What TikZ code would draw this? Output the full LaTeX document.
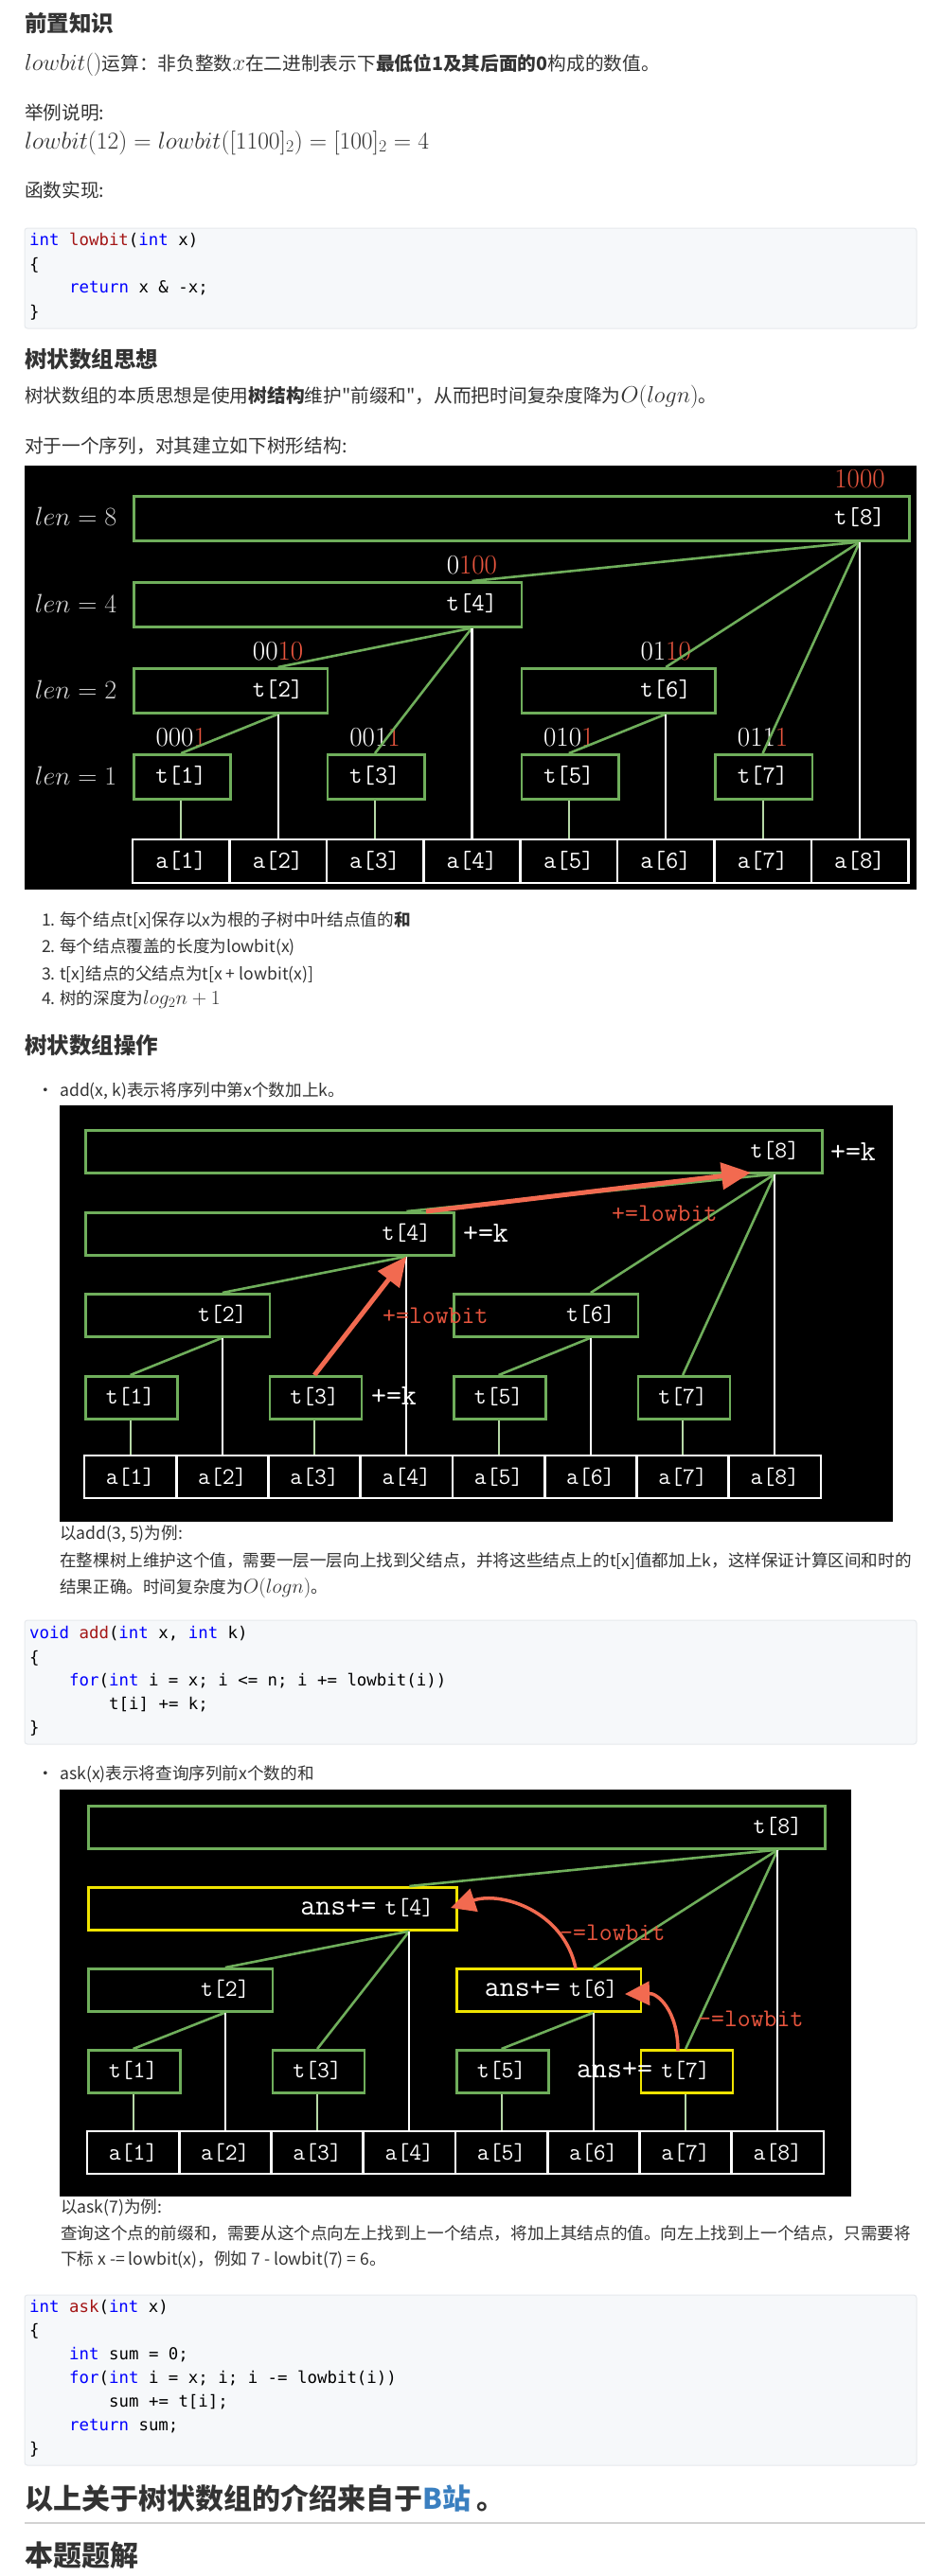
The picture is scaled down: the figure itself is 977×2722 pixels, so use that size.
\RequirePackage{fix-cm}
\documentclass[tikz,border=0pt]{standalone}
\usepackage{fontspec}
\usetikzlibrary{arrows.meta}
\newfontfamily\cjk{Noto Sans CJK SC}
\newfontfamily\codefont{DejaVu Sans Mono}
\definecolor{ink}{HTML}{333333}
\definecolor{kwblue}{HTML}{0000FF}
\definecolor{fnred}{HTML}{A31515}
\definecolor{codebg}{HTML}{F6F8FA}
\definecolor{codeline}{HTML}{E6E9ED}
\definecolor{treegreen}{HTML}{6FAE5B}
\definecolor{palegreen}{HTML}{B6D8A6}
\definecolor{bitred}{HTML}{E8553E}
\definecolor{arrowred}{HTML}{F26A50}
\definecolor{askyellow}{HTML}{F0E400}
\definecolor{linkblue}{HTML}{3A7FC0}
\definecolor{lengray}{HTML}{D4D4D4}

\newcommand\bodyfont{\cjk\fontsize{19.7}{24}\selectfont}
\newcommand\subfont{\cjk\fontsize{17.6}{21}\selectfont}
\newcommand\kmath[1]{{\fontsize{24.5}{26}\selectfont$#1$}}
\newcommand\smath[1]{{\fontsize{21.3}{24}\selectfont$#1$}}
\newcommand\ckw[1]{\textcolor{kwblue}{#1}}
\newcommand\cfn[1]{\textcolor{fnred}{#1}}

\tikzset{
  txt/.style={anchor=west, inner sep=0pt, text height=.8em, text depth=.2em, text=ink, font=\bodyfont},
  subtxt/.style={txt, font=\subfont},
  head/.style={txt, font=\cjk\bfseries\fontsize{23.5}{27}\selectfont},
  bighead/.style={txt, font=\cjk\bfseries\fontsize{30}{34}\selectfont},
  code/.style={txt, text=black, font=\codefont\fontsize{17.4}{20}\selectfont},
  codebox/.style={fill=codebg, draw=codeline, line width=1pt, rounded corners=3pt},
  tbox/.style={draw=treegreen, line width=2.6pt, inner sep=0pt, anchor=north west},
  abox/.style={draw=white, line width=2.6pt, inner sep=0pt, text=white},
  tname/.style={text=white, inner sep=0pt},
  bits/.style={text=white, inner sep=0pt, font=\rmfamily\fontsize{29}{30}\selectfont},
  lenlabel/.style={text=lengray, inner sep=0pt, font=\fontsize{28}{30}\selectfont},
  branch/.style={treegreen, line width=2.6pt},
  stem/.style={line width=2.2pt},
  plusk/.style={text=white, inner sep=0pt, font=\ttfamily\fontsize{31}{32}\selectfont},
  redtext/.style={anchor=west, text=bitred, inner sep=0pt, font=\ttfamily\fontsize{27}{28}\selectfont},
  addarrow/.style={arrowred, line width=5pt, -{Triangle[length=31pt,width=28pt]}},
  askarrow/.style={arrowred, line width=3.5pt, -{Triangle[length=26pt,width=25pt]}}
}

\begin{document}
\begin{tikzpicture}[x=1pt, y=-1pt]
\useasboundingbox (0,0) rectangle (977,2722);
\fill[white] (0,0) rectangle (977,2722);

% prerequisite
\node[head] (h-pre) at (26,31) {前置知识};
\node[txt] (p-lowbit) at (26,71) {\kmath{lowbit()}运算：非负整数\kmath{x}在二进制表示下\textbf{最低位1及其后面的0}构成的数值。};
\node[txt] (p-eg) at (26,123) {举例说明:};
\node[txt, font=\bodyfont\fontsize{25.5}{28}\selectfont] (p-formula) at (26,154) {$lowbit(12)=lowbit([1100]_2)=[100]_2=4$};
\node[txt] (p-impl) at (26,205) {函数实现:};
\draw[codebox] (26,241) rectangle (968,347);
\node[code] (lb-1) at (31,256) {\ckw{int} \cfn{lowbit}(\ckw{int} x)};
\node[code] (lb-2) at (31,282) {\{};
\node[code] (lb-3) at (73,306) {\ckw{return} x \& -x;};
\node[code] (lb-4) at (31,332) {\}};

% idea
\node[head] (h-idea) at (26,385) {树状数组思想};
\node[txt] (p-idea) at (26,422) {树状数组的本质思想是使用\textbf{树结构}维护"前缀和"，从而把时间复杂度降为\kmath{O(logn)}。};
\node[txt] (p-seq) at (26,475) {对于一个序列，对其建立如下树形结构:};

% tree picture
\fill[black] (26,492) rectangle (968,940);
\foreach \lb/\y in {8/546, 4/637.5, 2/728.5, 1/819.5}
  \node[lenlabel] (len\lb) at (80,\y) {$len=\lb$};
\foreach \i/\lb/\yt/\bw/\br in {8/8/523/{}/1000, 4/4/614/0/100, 2/2/705/00/10, 6/2/705/01/10, 1/1/796/000/1, 3/1/796/001/1, 5/1/796/010/1, 7/1/796/011/1}{
  \pgfmathsetmacro\xl{140+(\i-\lb)*102.4}
  \pgfmathsetmacro\xc{140+(\i-0.5)*102.4}
  \node[tbox, minimum width=\lb*102.4pt, minimum height=47pt] (one-b\i) at (\xl,\yt) {};
  \node[tname, font=\ttfamily\fontsize{26}{28}\selectfont] (one-t\i) at (\xc,\yt+23.5) {t[\i]};
  \node[bits] (one-n\i) at (\xc,\yt-17) {\bw\textcolor{bitred}{\br}};
}
\foreach \c/\p in {1/2, 2/4, 3/4, 4/8, 5/6, 6/8, 7/8}
  \draw[branch] (one-t\c |- one-b\c.north) -- (one-t\p |- one-b\p.south);
\foreach \i/\vc in {1/palegreen, 2/white, 3/palegreen, 4/white, 5/palegreen, 6/white, 7/palegreen, 8/white}{
  \node[abox, minimum width=102.4pt, minimum height=46pt, font=\ttfamily\fontsize{26}{28}\selectfont] (one-a\i) at ({140+(\i-0.5)*102.4},910) {a[\i]};
  \draw[stem, \vc] (one-t\i |- one-b\i.south) -- (one-a\i.north);
}

% properties
\node[subtxt, anchor=east] (n-1) at (59,975) {1.};
\node[subtxt] (l-1) at (63,975) {每个结点t[x]保存以x为根的子树中叶结点值的\textbf{和}};
\node[subtxt, anchor=east] (n-2) at (59,1003) {2.};
\node[subtxt] (l-2) at (63,1003) {每个结点覆盖的长度为lowbit(x)};
\node[subtxt, anchor=east] (n-3) at (59,1032) {3.};
\node[subtxt] (l-3) at (63,1032) {t[x]结点的父结点为t[x + lowbit(x)]};
\node[subtxt, anchor=east] (n-4) at (59,1058) {4.};
\node[subtxt] (l-4) at (63,1058) {树的深度为\smath{log_2n+1}};

% operations
\node[head] (h-op) at (26,1110) {树状数组操作};
\node[subtxt, anchor=center] (dot-add) at (48,1155) {•};
\node[subtxt] (p-add) at (63,1155) {add(x, k)表示将序列中第x个数加上k。};

% add picture
\fill[black] (63,1168) rectangle (943,1608);
\foreach \i/\lb/\yt in {8/8/1193, 4/4/1280, 2/2/1366, 6/2/1366, 1/1/1453, 3/1/1453, 5/1/1453, 7/1/1453}{
  \pgfmathsetmacro\xl{89+(\i-\lb)*97.25}
  \pgfmathsetmacro\xc{89+(\i-0.5)*97.25}
  \node[tbox, minimum width=\lb*97.25pt, minimum height=45pt] (add-b\i) at (\xl,\yt) {};
  \node[tname, font=\ttfamily\fontsize{25}{27}\selectfont] (add-t\i) at (\xc,\yt+22.5) {t[\i]};
}
\foreach \c/\p in {1/2, 2/4, 3/4, 4/8, 5/6, 6/8, 7/8}
  \draw[branch] (add-t\c |- add-b\c.north) -- (add-t\p |- add-b\p.south);
\foreach \i/\vc in {1/palegreen, 2/white, 3/palegreen, 4/white, 5/palegreen, 6/white, 7/palegreen, 8/white}{
  \node[abox, minimum width=97.25pt, minimum height=45pt, font=\ttfamily\fontsize{25}{27}\selectfont] (add-a\i) at ({89+(\i-0.5)*97.25},1560.5) {a[\i]};
  \draw[stem, \vc] (add-t\i |- add-b\i.south) -- (add-a\i.north);
}
\node[plusk] (add-k8) at (901,1217) {+=k};
\node[plusk] (add-k4) at (513,1303) {+=k};
\node[plusk] (add-k3) at (416,1475) {+=k};
\coordinate (add-from4) at (450,1280);
\coordinate (add-to8) at (793,1239);
\draw[addarrow] (add-t3 |- add-b3.north) -- (add-t4 |- add-b4.south);
\draw[addarrow] (add-from4) -- (add-to8);
\node[redtext] (add-lb1) at (404,1390) {+=lowbit};
\node[redtext] (add-lb2) at (646,1282) {+=lowbit};

\node[subtxt] (p-add-eg) at (63,1623) {以add(3, 5)为例:};
\node[subtxt] (p-add-1) at (63,1652) {在整棵树上维护这个值，需要一层一层向上找到父结点，并将这些结点上的t[x]值都加上k，这样保证计算区间和时的};
\node[subtxt] (p-add-2) at (63,1680) {结果正确。时间复杂度为\smath{O(logn)}。};
\draw[codebox] (26,1712) rectangle (968,1843);
\node[code] (ad-1) at (31,1728) {\ckw{void} \cfn{add}(\ckw{int} x, \ckw{int} k)};
\node[code] (ad-2) at (31,1754) {\{};
\node[code] (ad-3) at (73,1778) {\ckw{for}(\ckw{int} i = x; i <= n; i += lowbit(i))};
\node[code] (ad-4) at (115,1803) {t[i] += k;};
\node[code] (ad-5) at (31,1828) {\}};

\node[subtxt, anchor=center] (dot-ask) at (48,1877) {•};
\node[subtxt] (p-ask) at (63,1877) {ask(x)表示将查询序列前x个数的和};

% ask picture
\fill[black] (63,1891) rectangle (899,2321);
\foreach \i/\lb/\yt/\bc in {8/8/1907/treegreen, 4/4/1993/askyellow, 2/2/2079/treegreen, 6/2/2079/askyellow, 1/1/2165/treegreen, 3/1/2165/treegreen, 5/1/2165/treegreen, 7/1/2165/askyellow}{
  \pgfmathsetmacro\xl{92+(\i-\lb)*97.25}
  \pgfmathsetmacro\xc{92+(\i-0.5)*97.25}
  \node[tbox, draw=\bc, minimum width=\lb*97.25pt, minimum height=45pt] (ask-b\i) at (\xl,\yt) {};
  \node[tname, font=\ttfamily\fontsize{25}{27}\selectfont] (ask-t\i) at (\xc,\yt+22.5) {t[\i]};
}
\foreach \c/\p in {1/2, 2/4, 3/4, 4/8, 5/6, 6/8, 7/8}
  \draw[branch] (ask-t\c |- ask-b\c.north) -- (ask-t\p |- ask-b\p.south);
\foreach \i/\vc in {1/palegreen, 2/white, 3/palegreen, 4/white, 5/palegreen, 6/white, 7/palegreen, 8/white}{
  \node[abox, minimum width=97.25pt, minimum height=45pt, font=\ttfamily\fontsize{25}{27}\selectfont] (ask-a\i) at ({92+(\i-0.5)*97.25},2274.5) {a[\i]};
  \draw[stem, \vc] (ask-t\i |- ask-b\i.south) -- (ask-a\i.north);
}
\foreach \i in {4,6,7}
  \node[plusk, anchor=east, xshift=-9pt] (ask-s\i) at (ask-t\i.west) {ans+=};
\coordinate (ask-from6) at (608,2080);
\coordinate (ask-to4) at (476,2016);
\coordinate (ask-from7) at (716,2167);
\coordinate (ask-to6) at (660,2107);
\draw[askarrow] (ask-from6) .. controls (596,2020) and (530,1998) .. (ask-to4);
\draw[askarrow] (ask-from7) .. controls (716,2125) and (695,2106) .. (ask-to6);
\node[redtext] (ask-lb1) at (591,2042) {-=lowbit};
\node[redtext] (ask-lb2) at (737,2133) {-=lowbit};

\node[subtxt] (p-ask-eg) at (64,2335) {以ask(7)为例:};
\node[subtxt] (p-ask-1) at (64,2363) {查询这个点的前缀和，需要从这个点向左上找到上一个结点，将加上其结点的值。向左上找到上一个结点，只需要将};
\node[subtxt] (p-ask-2) at (64,2390) {下标 x -= lowbit(x)，例如 7 - lowbit(7) = 6。};
\draw[codebox] (26,2425) rectangle (968,2605);
\node[code] (ak-1) at (31,2440) {\ckw{int} \cfn{ask}(\ckw{int} x)};
\node[code] (ak-2) at (31,2465) {\{};
\node[code] (ak-3) at (73,2490) {\ckw{int} sum = 0;};
\node[code] (ak-4) at (73,2515) {\ckw{for}(\ckw{int} i = x; i; i -= lowbit(i))};
\node[code] (ak-5) at (115,2540) {sum += t[i];};
\node[code] (ak-6) at (73,2565) {\ckw{return} sum;};
\node[code] (ak-7) at (31,2590) {\}};

% closing
\node[bighead] (h-src) at (26,2648) {以上关于树状数组的介绍来自于\textcolor{linkblue}{B站} 。};
\draw[gray!35, line width=1.2pt] (26,2666) -- (977,2666);
\node[bighead] (h-sol) at (26,2708) {本题题解};
\end{tikzpicture}
\end{document}
